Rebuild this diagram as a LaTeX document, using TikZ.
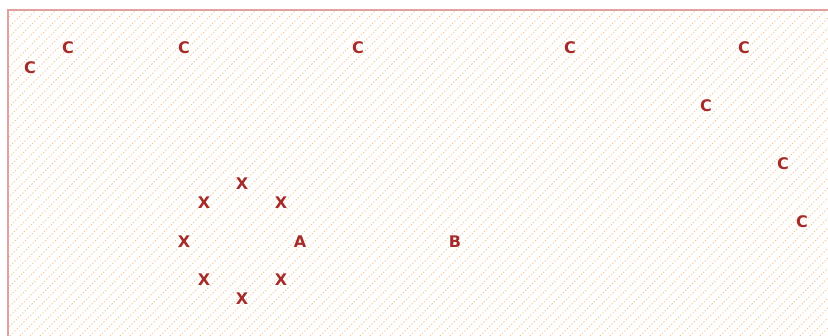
\documentclass[tikz,border=0pt]{standalone}
\usepackage{fontspec}
\setmainfont{DejaVu Sans}
\usepackage{tikz}
\definecolor{labelred}{HTML}{A52A2A}
\definecolor{edgepink}{HTML}{E0A0A0}
\definecolor{hatchorange}{HTML}{F4C690}
\tikzset{
  lbl/.style={text=labelred, font=\fontsize{16}{16}\selectfont\bfseries, inner sep=0pt},
  hatch/.style={hatchorange, line width=1pt, dash pattern=on 1.2pt off 2pt}
}

\begin{document}
\begin{tikzpicture}[x=1pt, y=-1pt]
			\useasboundingbox (0,0) rectangle (828,336);
			% background
			\begin{scope}
				\clip (8,10) rectangle (828,336);
				\foreach \i in {-340,-330,...,830}
					\draw[hatch] (\i,336) -- ++(336,-336);
			\end{scope}
			\draw[edgepink, line width=2pt] (8,340) -- (8,10) -- (832,10);
			% the C's
			\node[lbl] (c1) at (30,68) {C};
			\node[lbl] (c2) at (68,48) {C};
			\node[lbl] (c3) at (184,48) {C};
			\node[lbl] (c4) at (358,48) {C};
			\node[lbl] (c5) at (570,48) {C};
			\node[lbl] (c6) at (744,48) {C};
			\node[lbl] (c7) at (706,106) {C};
			\node[lbl] (c8) at (783,164) {C};
			\node[lbl] (c9) at (802,222) {C};
			% ring of X around A
			\node[lbl] (x1) at (242,184) {X};
			\node[lbl] (x2) at (204,203) {X};
			\node[lbl] (x3) at (281,203) {X};
			\node[lbl] (x4) at (184,242) {X};
			\node[lbl] (x5) at (204,280) {X};
			\node[lbl] (x6) at (281,280) {X};
			\node[lbl] (x7) at (242,299) {X};
			\node[lbl] (A) at (300,242) {A};
			\node[lbl] (B) at (455,242) {B};
		\end{tikzpicture}
\end{document}
